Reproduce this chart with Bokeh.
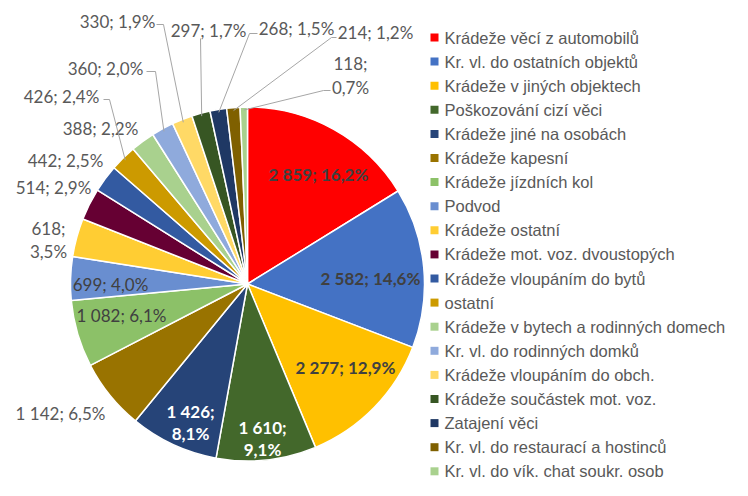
import math
from bokeh.plotting import figure
from bokeh.models import Range1d, ColumnDataSource
from bokeh.core.properties import value
from bokeh.embed import file_html
from bokeh.resources import INLINE

# ---------------- data ----------------
categories = [
    "Krádeže věcí z automobilů",
    "Kr. vl. do ostatních objektů",
    "Krádeže v jiných objektech",
    "Poškozování cizí věci",
    "Krádeže jiné na osobách",
    "Krádeže kapesní",
    "Krádeže jízdních kol",
    "Podvod",
    "Krádeže ostatní",
    "Krádeže mot. voz. dvoustopých",
    "Krádeže vloupáním do bytů",
    "ostatní",
    "Krádeže v bytech a rodinných domech",
    "Kr. vl. do rodinných domků",
    "Krádeže vloupáním do obch.",
    "Krádeže součástek mot. voz.",
    "Zatajení věci",
    "Kr. vl. do restaurací a hostinců",
    "Kr. vl. do vík. chat soukr. osob",
]
counts = [2859, 2582, 2277, 1610, 1426, 1142, 1082, 699, 618, 514,
          442, 426, 388, 360, 330, 297, 268, 214, 118]

# ---------------- style ----------------
colors = ["#FF0000", "#4472C4", "#FFC000", "#43682B", "#264478", "#997300",
          "#8CC168", "#698ED0", "#FFCD33", "#660033", "#335AA1", "#CC9A00",
          "#A9D18E", "#8FAADC", "#FFD966", "#375623", "#1F3864", "#7F6000",
          "#A9D18E"]

W, H = 732, 480
def Y(ry):  # reference pixel y -> data y
    return H - ry

CX, CY, R = 247, 283.5, 177

p = figure(width=W, height=H, x_range=Range1d(0, W), y_range=Range1d(0, H),
           output_backend="svg", toolbar_location=None, min_border=0,
           x_axis_type=None, y_axis_type=None)
p.grid.visible = False
p.outline_line_color = None
p.background_fill_color = "white"

total = sum(counts)
starts, ends, mids = [], [], []
cum = 0
for v in counts:
    a0 = math.pi / 2 - 2 * math.pi * cum / total
    a1 = math.pi / 2 - 2 * math.pi * (cum + v) / total
    starts.append(a0)
    ends.append(a1)
    mids.append((a0 + a1) / 2)
    cum += v

src = ColumnDataSource(dict(start=starts, end=ends, color=colors))
p.wedge(x=CX, y=Y(CY), radius=R, start_angle="start", end_angle="end",
        direction="clock", fill_color="color", line_color="white",
        line_width=1.5, source=src)

def fmt_num(v):
    return f"{v:,}".replace(",", " ")

def fmt_pct(v):
    return f"{v / total * 100:.1f}".replace(".", ",") + "%"

# label layout: (x, [y lines], split, style)
layout = [
    (318, [174], False, "bold"),
    (370, [278], False, "bold"),
    (345, [367], False, "bold"),
    (262, [427, 449], True, "white"),
    (190, [411, 433], True, "white"),
    (60, [413], False, "out"),
    (121, [315], False, "in"),
    (110, [284], False, "in"),
    (48, [228, 251], True, "out"),
    (53, [187], False, "out"),
    (65, [160], False, "out"),
    (61, [96], False, "out"),
    (100, [128], False, "out"),
    (105, [68], False, "out"),
    (117, [21], False, "out"),
    (208, [30], False, "out"),
    (296, [28], False, "out"),
    (375, [32], False, "out"),
    (350, [63, 87], True, "out"),
]

styles = {
    "bold": ("#404040", "bold"),
    "white": ("#FFFFFF", "bold"),
    "in": ("#404040", "normal"),
    "out": ("#595959", "normal"),
}

tx, ty, tt, tc, tf = [], [], [], [], []
for v, (x, ys, split, st) in zip(counts, layout):
    col, fs = styles[st]
    if split:
        lines = [fmt_num(v) + ";", fmt_pct(v)]
    else:
        lines = [fmt_num(v) + "; " + fmt_pct(v)]
    for line, yy in zip(lines, ys):
        tx.append(x); ty.append(Y(yy)); tt.append(line); tc.append(col); tf.append(fs)

lsrc = ColumnDataSource(dict(x=tx, y=ty, text=tt, color=tc, fs=tf))
p.text(x="x", y="y", text="text", text_color="color", text_font_style="fs",
       text_font=value("Lato"), text_font_size="17px", text_align="center",
       text_baseline="middle", source=lsrc)

# leader lines: label-side points (reference px); slice end computed from angle
leaders = {
    11: [(103, 99), (109, 99)],
    13: [(146, 71), (155, 71)],
    14: [(156, 24), (163, 24)],
    15: [(200, 38)],
    16: [(257, 33), (249, 33)],
    17: [(336, 37), (331, 37)],
    18: [(330, 90), (323, 90)],
}
lxs, lys = [], []
for i, pts in leaders.items():
    ang = mids[i]
    ex = CX + (R - 3) * math.cos(ang)
    ey = Y(CY) + (R - 3) * math.sin(ang)
    lxs.append([pt[0] for pt in pts] + [ex])
    lys.append([Y(pt[1]) for pt in pts] + [ey])
p.multi_line(xs=lxs, ys=lys, line_color="#A6A6A6", line_width=1)

# legend
LX, LY0, LDY = 434, 37, 24.1
leg_x = [LX] * len(categories)
leg_y = [Y(LY0 + i * LDY) for i in range(len(categories))]
p.rect(x=leg_x, y=leg_y, width=8, height=8, fill_color=colors, line_color=None)
p.text(x=[LX + 10] * len(categories), y=leg_y, text=categories,
       text_color="#595959", text_font=value("Liberation Sans"),
       text_font_size="16.5px", text_align="left", text_baseline="middle")

open("out.html", "w").write(file_html(p, INLINE))
